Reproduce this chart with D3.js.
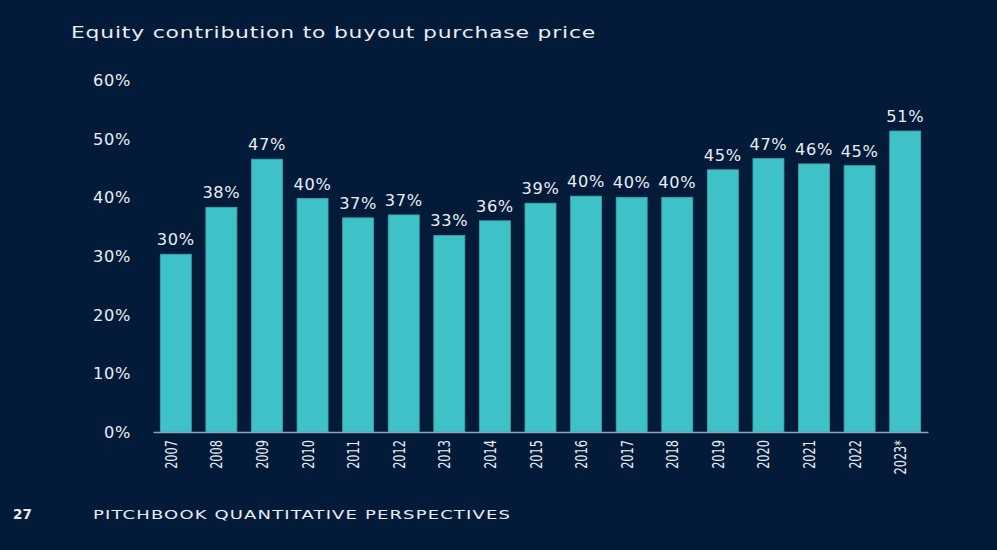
<!DOCTYPE html>
<html>
<head>
<meta charset="utf-8">
<script src="https://cdn.jsdelivr.net/npm/d3@7"></script>
<style>
  html, body { margin: 0; padding: 0; background: #031b39; }
  svg { display: block; }
</style>
</head>
<body>
<script>
// data
var years = ["2007", "2008", "2009", "2010", "2011", "2012", "2013", "2014", "2015",
             "2016", "2017", "2018", "2019", "2020", "2021", "2022", "2023*"];
var equityShare = [30.3, 38.3, 46.5, 39.8, 36.5, 37.0, 33.5, 36.0, 39.0,
                   40.2, 40.0, 40.0, 44.7, 46.6, 45.7, 45.4, 51.3];
var shareLabels = ["30%", "38%", "47%", "40%", "37%", "37%", "33%", "36%", "39%",
                   "40%", "40%", "40%", "45%", "47%", "46%", "45%", "51%"];
var yTicks = [0, 10, 20, 30, 40, 50, 60];

var width = 997, height = 550;
var textColor = "#e9edf3";

var svg = d3.select("body").append("svg")
    .attr("width", width)
    .attr("height", height);

svg.append("rect")
    .attr("width", width)
    .attr("height", height)
    .attr("fill", "#031b39");

// scales
var x = d3.scaleBand()
    .domain(years)
    .range([153, 928])
    .paddingInner(0.32)
    .paddingOuter(0.16);

var y = d3.scaleLinear()
    .domain([0, 60])
    .range([432, 80]);

// title - stretched a little, the original face is wide
svg.append("text")
    .attr("x", 71)
    .attr("y", 38)
    .attr("textLength", 525)
    .attr("lengthAdjust", "spacingAndGlyphs")
    .attr("fill", textColor)
    .style("font-family", "DejaVu Sans")
    .style("font-size", "16.5px")
    .style("letter-spacing", "0.6px")
    .text("Equity contribution to buyout purchase price");

// y axis labels (no line)
var yAxis = d3.axisLeft(y)
    .tickValues(yTicks)
    .tickSize(0)
    .tickPadding(0)
    .tickFormat(function (d) { return d + "%"; });

var yG = svg.append("g")
    .attr("transform", "translate(131,0)")
    .call(yAxis);
yG.select(".domain").remove();
yG.selectAll("text")
    .attr("fill", textColor)
    .attr("dy", "0.36em")
    .style("font-family", "DejaVu Sans")
    .style("font-size", "15px")
    .style("letter-spacing", "0.6px")
    .each(function () {
        var len = this.getComputedTextLength();
        d3.select(this)
            .attr("textLength", len * 1.08)
            .attr("lengthAdjust", "spacingAndGlyphs");
    });

// bars
svg.selectAll("rect.bar")
    .data(equityShare)
    .enter().append("rect")
    .attr("class", "bar")
    .attr("x", function (d, i) { return x(years[i]); })
    .attr("y", function (d) { return y(d); })
    .attr("width", x.bandwidth())
    .attr("height", function (d) { return y(0) - y(d); })
    .attr("fill", "#3ec2c8")
    .attr("stroke", "#34a7b0")
    .attr("stroke-width", 0.8);

// value labels
svg.selectAll("text.val")
    .data(equityShare)
    .enter().append("text")
    .attr("class", "val")
    .attr("x", function (d, i) { return x(years[i]) + x.bandwidth() / 2; })
    .attr("y", function (d) { return y(d) - 9; })
    .attr("text-anchor", "middle")
    .attr("fill", textColor)
    .style("font-family", "DejaVu Sans")
    .style("font-size", "15px")
    .style("letter-spacing", "0.6px")
    .text(function (d, i) { return shareLabels[i]; })
    .each(function () {
        var len = this.getComputedTextLength();
        d3.select(this)
            .attr("textLength", len * 1.08)
            .attr("lengthAdjust", "spacingAndGlyphs");
    });

// x axis
var xAxis = d3.axisBottom(x).tickSize(0).tickPadding(0);
var xG = svg.append("g")
    .attr("transform", "translate(0,432)")
    .call(xAxis);
xG.select(".domain")
    .attr("stroke", "#8d9eb8")
    .attr("stroke-width", 1.5);
xG.selectAll("text")
    .attr("fill", textColor)
    .attr("transform", "translate(1,8) rotate(-90)")
    .attr("x", 0)
    .attr("y", 0)
    .attr("dy", "0")
    .attr("text-anchor", "end")
    .style("font-family", "DejaVu Sans Condensed, DejaVu Sans")
    .style("font-size", "15px")
    .each(function () {
        // squeeze the year labels to the narrow face of the original
        var len = this.getComputedTextLength();
        d3.select(this)
            .attr("textLength", len * 0.84)
            .attr("lengthAdjust", "spacingAndGlyphs");
    });

// footer
svg.append("text")
    .attr("x", 13)
    .attr("y", 519)
    .attr("fill", textColor)
    .style("font-family", "DejaVu Sans")
    .style("font-weight", "bold")
    .style("font-size", "13.5px")
    .text("27");

svg.append("text")
    .attr("x", 93)
    .attr("y", 519)
    .attr("textLength", 418)
    .attr("lengthAdjust", "spacingAndGlyphs")
    .attr("fill", textColor)
    .style("font-family", "DejaVu Sans")
    .style("font-size", "12.5px")
    .style("letter-spacing", "0.8px")
    .text("PITCHBOOK QUANTITATIVE PERSPECTIVES");
</script>
</body>
</html>
